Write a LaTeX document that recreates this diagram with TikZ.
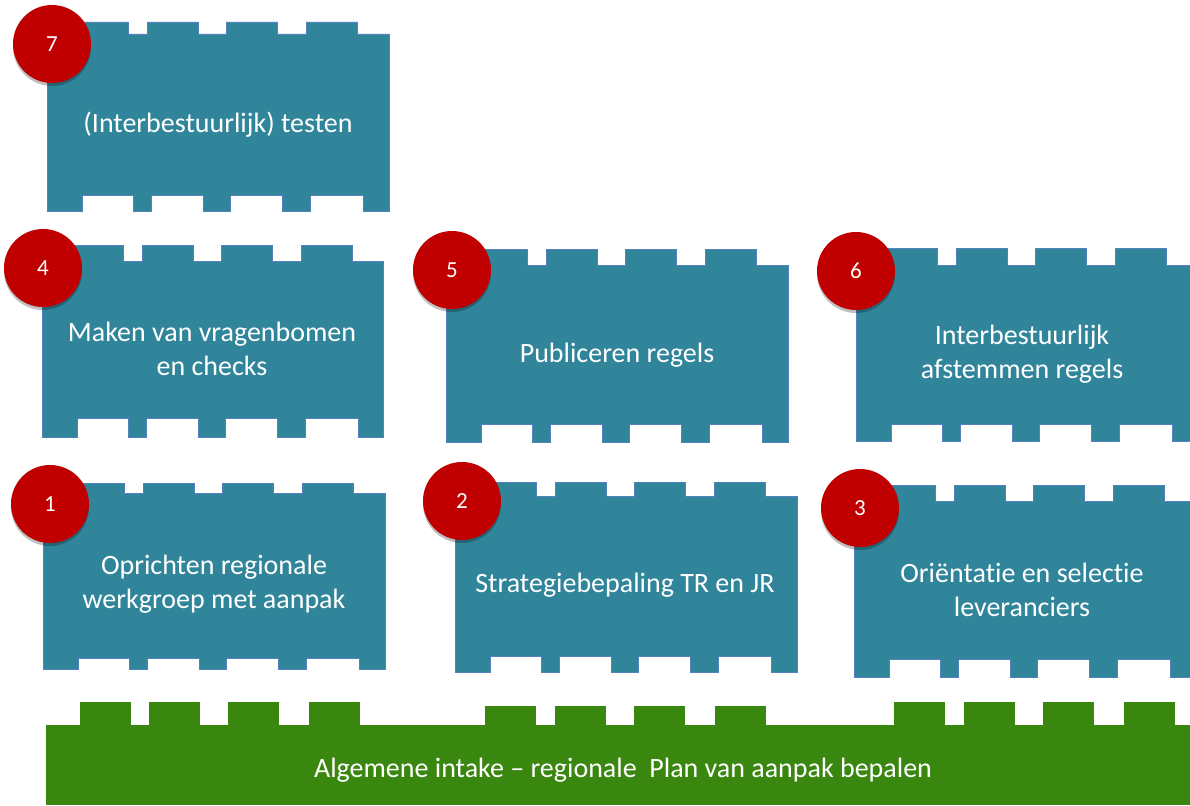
\documentclass[tikz,border=0pt]{standalone}
\usepackage{fontspec}
\setmainfont{Carlito}[Ligatures=NoCommon]
\usetikzlibrary{shadows}
\definecolor{teal}{RGB}{49,133,155}
\definecolor{tealedge}{RGB}{84,130,190}
\definecolor{basegreen}{RGB}{58,135,16}
\definecolor{darkred}{RGB}{192,0,0}
\tikzset{
  legofill/.style={fill=teal, draw=tealedge, line width=0.7pt, line join=miter},
  greenfill/.style={fill=basegreen, draw=none},
  numc/.style={circle, fill=darkred, minimum size=78pt, inner sep=0pt, text=white,
    font=\fontsize{23}{26}\selectfont,
    drop shadow={shadow xshift=0pt, shadow yshift=-3pt, opacity=0.25, fill=black}},
  lbl/.style={text=white, align=center, font=\fontsize{28}{34}\selectfont, inner sep=0pt},
}
% #1 left, #2 right, #3 stud top, #4 body top, #5 notch top, #6 bottom
\newcommand\legoblock[6]{%
  \path[legofill] (#1,#4) -- ({#1+30},#4) -- ({#1+30},#3) -- ({#1+81},#3) -- ({#1+81},#4)
   -- ({#1+100},#4) -- ({#1+100},#3) -- ({#1+151},#3) -- ({#1+151},#4)
   -- ({#1+179},#4) -- ({#1+179},#3) -- ({#1+230},#3) -- ({#1+230},#4)
   -- ({#1+259},#4) -- ({#1+259},#3) -- ({#1+310},#3) -- ({#1+310},#4)
   -- (#2,#4) -- (#2,#6)
   -- ({#1+316},#6) -- ({#1+316},#5) -- ({#1+263},#5) -- ({#1+263},#6)
   -- ({#1+235},#6) -- ({#1+235},#5) -- ({#1+183},#5) -- ({#1+183},#6)
   -- ({#1+156},#6) -- ({#1+156},#5) -- ({#1+104},#5) -- ({#1+104},#6)
   -- ({#1+86},#6) -- ({#1+86},#5) -- ({#1+35},#5) -- ({#1+35},#6)
   -- (#1,#6) -- cycle;}
\begin{document}
\begin{tikzpicture}[x=1pt,y=-1pt]
\useasboundingbox (0,0) rectangle (1190,805);
\fill[white] (0,0) rectangle (1190,805);
% blocks
\legoblock{47}{389}{22}{34}{195}{211}
\legoblock{42}{383}{245}{261}{418}{437}
\legoblock{446}{788}{249}{265}{424}{442}
\legoblock{856}{1190}{248}{265}{424}{441}
\legoblock{43}{385}{483}{493}{658}{669}
\legoblock{455}{797}{482}{496}{656}{672}
\legoblock{854}{1190}{485}{501}{659}{677}
% green base
\path[greenfill] (46,725) rectangle (1190,805);
\foreach \a/\b/\t in {80/131/702,149/200/702,228/279/702,309/360/702,
  485/536/706,555/606/706,634/685/706,715/766/706,
  894/945/702,964/1015/702,1043/1094/702,1124/1175/702}
  \path[greenfill] (\a,\t) rectangle (\b,726);
% labels
\node[lbl] (t7) at (218,125) {(Interbestuurlijk) testen};
\node[lbl] (t4) at (212,349) {Maken van vragenbomen\\en checks};
\node[lbl] (t5) at (617,355) {Publiceren regels};
\node[lbl] (t6) at (1022,354) {Interbestuurlijk\\afstemmen regels};
\node[lbl] (t1) at (214,584) {Oprichten regionale\\werkgroep met aanpak};
\node[lbl] (t2) at (625,585) {Strategiebepaling TR en JR};
\node[lbl] (t3) at (1022,590) {Oriëntatie en selectie\\leveranciers};
\node[lbl] (tb) at (623,770) {Algemene intake – regionale\ \ Plan van aanpak bepalen};
% number circles
\node[numc] (c7) at (52,44) {7};
\node[numc] (c4) at (43,268) {4};
\node[numc] (c5) at (452,270) {5};
\node[numc] (c6) at (856,271) {6};
\node[numc] (c1) at (50,504) {1};
\node[numc] (c2) at (462,501) {2};
\node[numc] (c3) at (860,508) {3};
\end{tikzpicture}
\end{document}
